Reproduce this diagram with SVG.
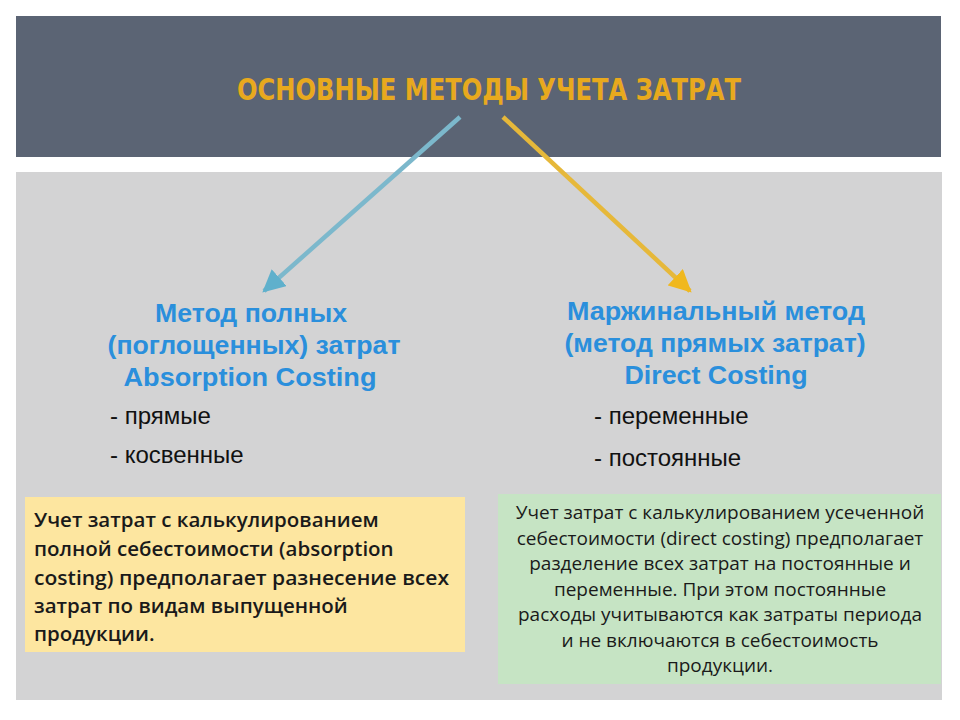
<svg xmlns="http://www.w3.org/2000/svg" width="960" height="720" viewBox="0 0 960 720">
<defs>
<style>
.title{font-family:"DejaVu Sans Condensed","Liberation Sans",sans-serif;font-weight:bold;font-size:31px;fill:#e8a91e}
.head{font-family:"Liberation Sans",Arial,sans-serif;font-weight:bold;font-size:26px;fill:#2a8fdc;text-anchor:middle}
.item{font-family:"Liberation Sans",Arial,sans-serif;font-size:24px;fill:#111}
.boxl{font-family:"Open Sans","Liberation Sans",sans-serif;font-size:20.5px;fill:#1a1a1a;font-weight:600}
.boxr{font-family:"Open Sans","Liberation Sans",sans-serif;font-size:19px;fill:#1a1a1a;text-anchor:middle}
</style>
<marker id="ahb" viewBox="0 0 10 10" refX="9" refY="5" markerWidth="5" markerHeight="5" orient="auto" markerUnits="strokeWidth">
<path d="M0,0 L10,5 L0,10 z" fill="#5fb0cc"/>
</marker>
<marker id="ahy" viewBox="0 0 10 10" refX="9" refY="5" markerWidth="5" markerHeight="5" orient="auto" markerUnits="strokeWidth">
<path d="M0,0 L10,5 L0,10 z" fill="#f0b81e"/>
</marker>
</defs>
<rect width="960" height="720" fill="#ffffff"/>
<rect x="16" y="16" width="925" height="141" fill="#5b6474"/>
<rect x="16" y="172" width="926" height="528" fill="#d3d3d4"/>

<g id="title">
<text class="title" x="489" y="100" text-anchor="middle" textLength="504" lengthAdjust="spacingAndGlyphs">ОСНОВНЫЕ МЕТОДЫ УЧЕТА ЗАТРАТ</text>
</g>

<g id="connectors">
<line x1="460" y1="117" x2="264" y2="291" stroke="#7cb8cc" stroke-width="4.5" marker-end="url(#ahb)"/>
<line x1="503" y1="117" x2="690" y2="291" stroke="#e6b83a" stroke-width="4.5" marker-end="url(#ahy)"/>
</g>

<g id="absorption">
<text class="head" x="251" y="322" textLength="192" lengthAdjust="spacingAndGlyphs">Метод полных</text>
<text class="head" x="254" y="354" textLength="293" lengthAdjust="spacingAndGlyphs">(поглощенных) затрат</text>
<text class="head" x="250" y="386" textLength="253" lengthAdjust="spacingAndGlyphs">Absorption Costing</text>
<text class="item" x="110" y="424">- прямые</text>
<text class="item" x="110" y="463">- косвенные</text>
</g>

<g id="direct">
<text class="head" x="716" y="320" textLength="298" lengthAdjust="spacingAndGlyphs">Маржинальный метод</text>
<text class="head" x="715" y="352" textLength="301" lengthAdjust="spacingAndGlyphs">(метод прямых затрат)</text>
<text class="head" x="716" y="384" textLength="183" lengthAdjust="spacingAndGlyphs">Direct Costing</text>
<text class="item" x="594" y="424">- переменные</text>
<text class="item" x="594" y="466">- постоянные</text>
</g>

<g id="absorption-note">
<rect x="25" y="497" width="440" height="155" fill="#fde6a0"/>
<text class="boxl" x="34" y="527">Учет затрат с калькулированием</text>
<text class="boxl" x="34" y="556">полной себестоимости (absorption</text>
<text class="boxl" x="34" y="585" textLength="415" lengthAdjust="spacingAndGlyphs">costing) предполагает разнесение всех</text>
<text class="boxl" x="34" y="613">затрат по видам выпущенной</text>
<text class="boxl" x="34" y="641">продукции.</text>
</g>

<g id="direct-note">
<rect x="498" y="494" width="443" height="190" fill="#c6e4c4"/>
<text class="boxr" x="720" y="519">Учет затрат с калькулированием усеченной</text>
<text class="boxr" x="720" y="545">себестоимости (direct costing) предполагает</text>
<text class="boxr" x="720" y="570">разделение всех затрат на постоянные и</text>
<text class="boxr" x="720" y="596">переменные. При этом постоянные</text>
<text class="boxr" x="720" y="621">расходы учитываются как затраты периода</text>
<text class="boxr" x="720" y="647">и не включаются в себестоимость</text>
<text class="boxr" x="720" y="672">продукции.</text>
</g>
</svg>
